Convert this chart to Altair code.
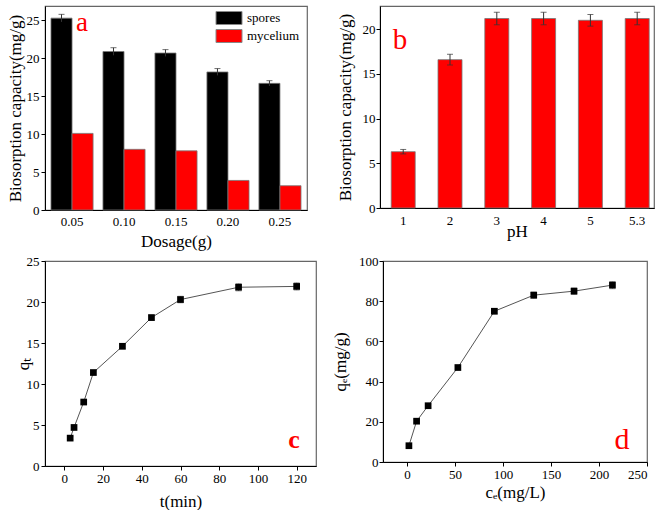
import altair as alt
import pandas as pd

FONT = "Liberation Serif"

# ---- data ----
dosage = ["0.05", "0.10", "0.15", "0.20", "0.25"]
spores = [25.3, 20.9, 20.7, 18.2, 16.7]
spores_err = [0.5, 0.5, 0.45, 0.45, 0.35]
mycelium = [10.1, 8.0, 7.8, 3.9, 3.2]

ph = ["1", "2", "3", "4", "5", "5.3"]
ph_q = [6.3, 16.6, 21.2, 21.2, 21.0, 21.2]
ph_err = [0.25, 0.6, 0.7, 0.7, 0.65, 0.7]

t_min = [3, 5, 10, 15, 30, 45, 60, 90, 120]
qt = [3.4, 4.7, 7.8, 11.4, 14.6, 18.1, 20.3, 21.8, 21.9]
qt_err = [0.2, 0.2, 0.2, 0.2, 0.3, 0.3, 0.4, 0.45, 0.45]

ce = [2, 10, 22, 53, 91, 132, 174, 214]
qe = [8.1, 20.3, 28.0, 47.0, 75.0, 83.0, 85.0, 88.0]
qe_err = [0.6, 0.8, 0.8, 0.8, 1.2, 1.6, 1.6, 1.8]

series = ["spores", "mycelium"]

# ---- tables ----
df_a = pd.DataFrame(
    {
        "dose": dosage * 2,
        "series": ["spores"] * len(dosage) + ["mycelium"] * len(dosage),
        "val": spores + mycelium,
        "err": spores_err + [0.0] * len(dosage),
    }
)
df_a["lo"] = df_a["val"] - df_a["err"]
df_a["hi"] = df_a["val"] + df_a["err"]

df_b = pd.DataFrame({"ph": ph, "q": ph_q, "err": ph_err})
df_b["lo"] = df_b["q"] - df_b["err"]
df_b["hi"] = df_b["q"] + df_b["err"]

df_c = pd.DataFrame({"t": t_min, "q": qt, "err": qt_err})
df_c["lo"] = df_c["q"] - df_c["err"]
df_c["hi"] = df_c["q"] + df_c["err"]

df_d = pd.DataFrame({"c": ce, "q": qe, "err": qe_err})
df_d["lo"] = df_d["q"] - df_d["err"]
df_d["hi"] = df_d["q"] + df_d["err"]


def letter(ch, x, y, size, weight="normal"):
    return (
        alt.Chart(pd.DataFrame({"t": [ch]}))
        .mark_text(
            font=FONT,
            fontSize=size,
            fontWeight=weight,
            color="#ff0000",
            align="center",
            baseline="alphabetic",
        )
        .encode(x=alt.value(x), y=alt.value(y), text="t:N")
    )


def ax(**kw):
    base = dict(labelFont=FONT, titleFont=FONT, labelOverlap=False, labelFontSize=13, titleFontSize=17)
    base.update(kw)
    return alt.Axis(**base)


# ---- panel a ----
ax_xa = ax(title="Dosage(g)", labelAngle=0, ticks=False, labelPadding=5, titlePadding=5)
sc_xa = alt.Scale(paddingInner=0.19, paddingOuter=0.115)
sc_ya = alt.Scale(domain=[0, 26.9], nice=False)
ax_ya = ax(title="Biosorption capacity(mg/g)", values=[0, 5, 10, 15, 20, 25], tickSize=4, labelPadding=2, titlePadding=2)
xoff = alt.XOffset("series:N", sort=series, scale=alt.Scale(domain=series, paddingInner=0, paddingOuter=0))
xa = alt.X("dose:N", sort=dosage, scale=sc_xa, axis=ax_xa)

bars_a = (
    alt.Chart(df_a)
    .mark_bar(stroke="#777777", strokeWidth=0.8)
    .encode(
        x=xa,
        xOffset=xoff,
        y=alt.Y("val:Q", scale=sc_ya, axis=ax_ya),
        color=alt.Color(
            "series:N",
            sort=series,
            scale=alt.Scale(domain=series, range=["#000000", "#ff0000"]),
            legend=alt.Legend(
                title=None,
                orient="none",
                legendX=177,
                legendY=5,
                symbolType="M-2,-1H2V1H-2Z",
                symbolSize=169,
                symbolStrokeColor="#888888",
                symbolStrokeWidth=1,
                labelFont=FONT,
                labelFontSize=13,
                labelColor="black",
                rowPadding=0,
                labelOffset=11,
                padding=0,
            ),
        ),
    )
)
err_src = alt.Chart(df_a).transform_filter(alt.datum.series == "spores")
err_a = err_src.mark_rule(color="#333333", strokeWidth=1).encode(
    x=xa, xOffset=xoff, y=alt.Y("lo:Q", scale=sc_ya, axis=ax_ya), y2="hi:Q"
)
cap_a = err_src.mark_tick(color="#333333", thickness=1, size=6).encode(
    x=xa, xOffset=xoff, y=alt.Y("hi:Q", scale=sc_ya, axis=ax_ya)
)
panel_a = alt.layer(bars_a, err_a, cap_a, letter("a", 37, 25, 27)).properties(width=262, height=204)

# ---- panel b ----
xb = alt.X(
    "ph:N",
    sort=ph,
    scale=alt.Scale(paddingInner=0.487, paddingOuter=0.171, align=0.7),
    axis=ax(title="pH", labelAngle=0, ticks=False, labelPadding=6, titlePadding=-4),
)
sc_yb = alt.Scale(domain=[0, 22.6], nice=False)
ax_yb = ax(title="Biosorption capacity(mg/g)", values=[0, 5, 10, 15, 20], tickSize=4, labelPadding=1, titlePadding=8)
bars_b = alt.Chart(df_b).mark_bar(color="#ff0000", stroke="#777777", strokeWidth=0.8).encode(
    x=xb, y=alt.Y("q:Q", scale=sc_yb, axis=ax_yb)
)
err_b = alt.Chart(df_b).mark_rule(color="#333333", strokeWidth=1).encode(
    x=xb, y=alt.Y("lo:Q", scale=sc_yb, axis=ax_yb), y2="hi:Q"
)
capt_b = alt.Chart(df_b).mark_tick(color="#333333", thickness=1, size=6).encode(
    x=xb, y=alt.Y("hi:Q", scale=sc_yb, axis=ax_yb)
)
capb_b = alt.Chart(df_b).mark_tick(color="#333333", thickness=1, size=6).encode(
    x=xb, y=alt.Y("lo:Q", scale=sc_yb, axis=ax_yb)
)
panel_b = alt.layer(bars_b, err_b, capt_b, capb_b, letter("b", 20, 43, 29)).properties(width=274, height=202)

# ---- panel c ----
xc = alt.X(
    "t:Q",
    scale=alt.Scale(domain=[-10, 130], nice=False),
    axis=ax(title="t(min)", values=[0, 20, 40, 60, 80, 100, 120], tickSize=4, labelPadding=2, titlePadding=8),
)
sc_yc = alt.Scale(domain=[0, 25], nice=False)
ax_yc = ax(title="qₜ", values=[0, 5, 10, 15, 20, 25], tickSize=4, labelPadding=2, titlePadding=-6)
line_c = alt.Chart(df_c).mark_line(color="#555555", strokeWidth=1).encode(x=xc, y=alt.Y("q:Q", scale=sc_yc, axis=ax_yc))
err_c = alt.Chart(df_c).mark_rule(color="#777777", strokeWidth=1).encode(
    x=xc, y=alt.Y("lo:Q", scale=sc_yc, axis=ax_yc), y2="hi:Q"
)
capt_c = alt.Chart(df_c).mark_tick(color="#777777", thickness=1, size=6, orient="horizontal").encode(
    x=xc, y=alt.Y("hi:Q", scale=sc_yc, axis=ax_yc)
)
capb_c = alt.Chart(df_c).mark_tick(color="#777777", thickness=1, size=6, orient="horizontal").encode(
    x=xc, y=alt.Y("lo:Q", scale=sc_yc, axis=ax_yc)
)
pts_c = alt.Chart(df_c).mark_point(shape="square", filled=True, color="black", opacity=1, size=45).encode(
    x=xc, y=alt.Y("q:Q", scale=sc_yc, axis=ax_yc)
)
panel_c = alt.layer(line_c, err_c, capt_c, capb_c, pts_c, letter("c", 249, 187, 26, "bold")).properties(
    width=271, height=205
)

# ---- panel d ----
xd = alt.X(
    "c:Q",
    scale=alt.Scale(domain=[-25, 250], nice=False),
    axis=ax(title="cₑ(mg/L)", values=[0, 50, 100, 150, 200, 250], tickSize=4, labelPadding=2, titlePadding=3),
)
sc_yd = alt.Scale(domain=[0, 100], nice=False)
ax_yd = ax(title="qₑ(mg/g)", values=[0, 20, 40, 60, 80, 100], tickSize=4, labelPadding=1, titlePadding=9)
line_d = alt.Chart(df_d).mark_line(color="#555555", strokeWidth=1).encode(x=xd, y=alt.Y("q:Q", scale=sc_yd, axis=ax_yd))
err_d = alt.Chart(df_d).mark_rule(color="#777777", strokeWidth=1).encode(
    x=xd, y=alt.Y("lo:Q", scale=sc_yd, axis=ax_yd), y2="hi:Q"
)
capt_d = alt.Chart(df_d).mark_tick(color="#777777", thickness=1, size=6, orient="horizontal").encode(
    x=xd, y=alt.Y("hi:Q", scale=sc_yd, axis=ax_yd)
)
capb_d = alt.Chart(df_d).mark_tick(color="#777777", thickness=1, size=6, orient="horizontal").encode(
    x=xd, y=alt.Y("lo:Q", scale=sc_yd, axis=ax_yd)
)
pts_d = alt.Chart(df_d).mark_point(shape="square", filled=True, color="black", opacity=1, size=45).encode(
    x=xd, y=alt.Y("q:Q", scale=sc_yd, axis=ax_yd)
)
panel_d = alt.layer(line_d, err_d, capt_d, capb_d, pts_d, letter("d", 239, 188, 30)).properties(
    width=264, height=201
)

row1 = alt.hconcat(panel_a, panel_b, spacing=27)
row2 = alt.hconcat(panel_c, panel_d, spacing=13)

chart = (
    alt.concat(row1, row2, columns=1, align="none", spacing=4)
    .properties(padding={"left": 5, "top": 5, "right": 0, "bottom": 0}, background="white")
    .configure(font=FONT)
    .configure_view(stroke="#666666", strokeWidth=1.2)
    .configure_axis(
        labelFont=FONT,
        titleFont=FONT,
        titleFontWeight="normal",
        labelColor="black",
        titleColor="black",
        domainColor="black",
        tickColor="black",
        domainWidth=1,
        labelOverlap=False,
        grid=False,
    )
)

chart.save("out.html", embed_options={"renderer": "svg", "actions": False})
